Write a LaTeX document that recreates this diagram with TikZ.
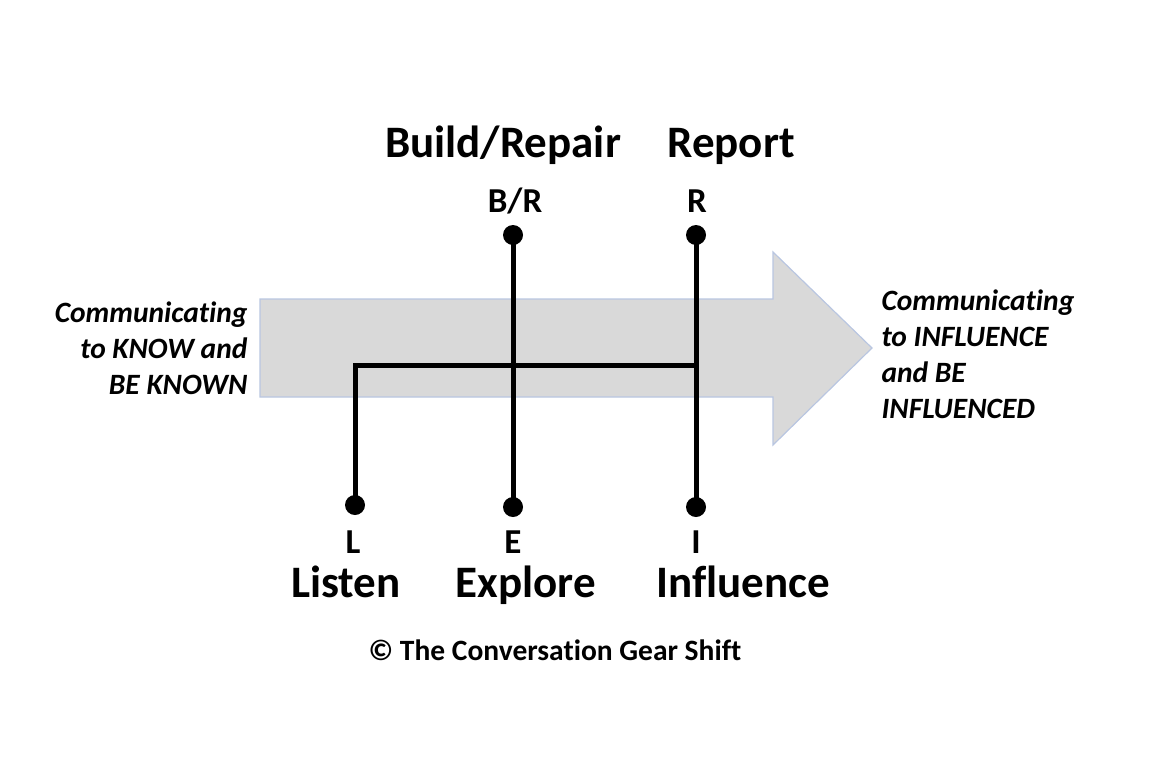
\documentclass[tikz,border=0pt]{standalone}
\usepackage{fontspec}
\setmainfont{Carlito}[Ligatures=NoCommon]
\begin{document}
\begin{tikzpicture}[x=1pt,y=-1pt,
  lever/.style={line width=5pt,line cap=butt},
  knob/.style={circle,fill=black,inner sep=0pt,minimum size=20pt},
  gearname/.style={anchor=base,font=\bfseries\fontsize{45}{50}\selectfont},
  gearletter/.style={anchor=base,font=\bfseries\fontsize{35}{40}\selectfont},
  side/.style={font=\bfseries\itshape\fontsize{29.5}{36}\selectfont}]
\useasboundingbox (0,0) rectangle (1164,777);
% big arrow
\draw[fill={rgb,255:red,217;green,217;blue,217},draw={rgb,255:red,185;green,198;blue,225},line width=1.2pt]
  (260,299) -- (773,299) -- (773,252) -- (872,348) -- (773,445) -- (773,397) -- (260,397) -- cycle;
% knobs
\node[knob] (br) at (513,235) {};
\node[knob] (r) at (696,235) {};
\node[knob] (l) at (355,505) {};
\node[knob] (e) at (513,507) {};
\node[knob] (i) at (696,507) {};
\coordinate (jl) at (355,365);
\coordinate (jr) at (696,365);
% levers
\draw[lever] (br.center) -- (e.center);
\draw[lever] (r.center) -- (i.center);
\draw[lever,line join=miter] (l.center) -- (jl) -- (jr);
% labels
\node[gearname] (brn) at (503,157) {Build/Repair};
\node[gearname] (rn) at (731,157) {Report};
\node[gearletter] (brl) at (515,212) {B/R};
\node[gearletter] (rl) at (697,212) {R};
\node[gearletter] (ll) at (353,553) {L};
\node[gearletter] (el) at (513,553) {E};
\node[gearletter] (il) at (696,553) {I};
\node[gearname] (ln) at (346,597) {Listen};
\node[gearname] (en) at (526,597) {Explore};
\node[gearname] (in) at (743,597) {Influence};
\node[anchor=base,font=\bfseries\fontsize{29.5}{34}\selectfont] (cr) at (555,660) {© The Conversation Gear Shift};
\node[side,align=right,anchor=east] (lt) at (251,348) {Communicating\\to KNOW and\\BE KNOWN};
\node[side,align=left,anchor=west] (rt) at (878,354) {Communicating\\to INFLUENCE\\and BE\\INFLUENCED};
\end{tikzpicture}
\end{document}
